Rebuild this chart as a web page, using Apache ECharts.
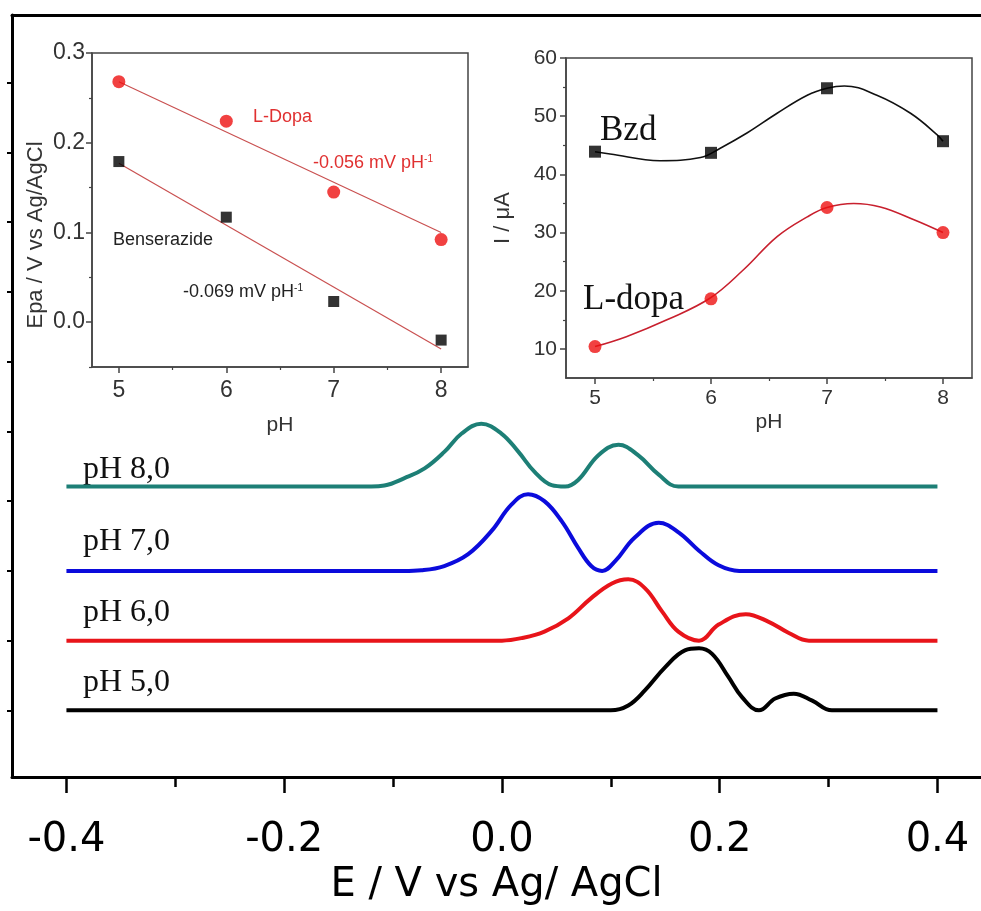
<!DOCTYPE html>
<html>
<head>
<meta charset="utf-8">
<title>DPV pH</title>
<script src="https://cdn.jsdelivr.net/npm/echarts@6.0.0/dist/echarts.min.js"></script>
<style>
html, body { margin: 0; padding: 0; background: #fff; }
#chart { width: 981px; height: 911px; }
</style>
</head>
<body>
<div id="chart"></div>
<script>
// main voltammograms: E (V) and current (arb. units, 1 unit = one y tick)
var pH5E = [-0.40, 0.10, 0.116, 0.1315, 0.15, 0.168, 0.181, 0.193, 0.208, 0.2205, 0.236, 0.251, 0.268, 0.285, 0.303, 0.40];
var pH5I = [0, 0, 0.07, 0.29, 0.62, 0.86, 0.89, 0.81, 0.48, 0.19, 0, 0.17, 0.24, 0.14, 0, 0];
var pH6E = [-0.40, 0.0, 0.018, 0.039, 0.061, 0.082, 0.101, 0.116, 0.1315, 0.147, 0.162, 0.181, 0.199, 0.224, 0.245, 0.2635, 0.282, 0.40];
var pH6I = [0, 0, 0.036, 0.13, 0.32, 0.61, 0.82, 0.88, 0.75, 0.42, 0.13, 0, 0.23, 0.38, 0.27, 0.11, 0, 0];
var pH7E = [-0.40, -0.09, -0.074, -0.053, -0.031, -0.0097, 0.0087, 0.024, 0.039, 0.055, 0.070, 0.082, 0.092, 0.104, 0.122, 0.144, 0.1625, 0.181, 0.199, 0.218, 0.40];
var pH7I = [0, 0, 0.01, 0.07, 0.24, 0.57, 0.95, 1.10, 1.00, 0.71, 0.33, 0.07, 0, 0.14, 0.48, 0.69, 0.55, 0.29, 0.08, 0, 0];
var pH8E = [-0.40, -0.120, -0.108, -0.0895, -0.071, -0.0527, -0.037, -0.019, -0.0005, 0.015, 0.030, 0.0456, 0.058, 0.070, 0.0886, 0.107, 0.125, 0.144, 0.162, 0.40];
var pH8I = [0, 0, 0.014, 0.12, 0.26, 0.50, 0.76, 0.90, 0.76, 0.50, 0.21, 0.02, 0, 0.094, 0.45, 0.60, 0.45, 0.17, 0, 0];
var curveNames = ['pH 5,0', 'pH 6,0', 'pH 7,0', 'pH 8,0'];
var curveOffsets = [0, 1, 2, 3.21];
var curveColors = ['#000000', '#e8141a', '#0b0bdc', '#1d7f76'];

var mainXTicks = [-0.4, -0.2, 0, 0.2, 0.4];
var mainXMinor = [-0.3, -0.1, 0.1, 0.3];
var mainYTicks = [0, 1, 2, 3, 4, 5, 6, 7, 8, 9];

// inset 1: peak potential vs pH
var pHVals = [5, 6, 7, 8];
var ldopaEpa = [0.268, 0.224, 0.145, 0.092];
var bzdEpa = [0.179, 0.117, 0.023, -0.020];
var fitPH = [5, 8];
var ldopaFit = [0.268, 0.100];
var bzdFit = [0.177, -0.030];
var epaTicks = [0, 0.1, 0.2, 0.3];
var epaMinor = [-0.05, 0.05, 0.15, 0.25];

// inset 2: peak current vs pH
var ldopaI = [10.4, 18.6, 34.3, 30.0];
var bzdI = [43.9, 43.7, 54.8, 45.7];
var bzdCurvePH = [5.0, 5.13, 5.56, 5.91, 6.08, 6.31, 6.57, 6.83, 7.0, 7.15, 7.43, 7.72, 7.95, 8.0];
var bzdCurve = [43.9, 43.5, 42.35, 42.9, 44.5, 47.1, 50.5, 53.6, 54.8, 55.2, 53.6, 50.5, 46.8, 45.7];
var ldopaCurvePH = [5.0, 5.27, 5.62, 5.99, 6.28, 6.57, 6.83, 7.0, 7.23, 7.46, 7.75, 8.0];
var ldopaCurve = [10.4, 12.1, 15.0, 18.7, 23.6, 29.3, 32.7, 34.3, 35.0, 34.4, 32.2, 30.0];
var iTicks = [10, 20, 30, 40, 50, 60];
var iMinor = [15, 25, 35, 45, 55];
var pHTicks = [5, 6, 7, 8];
var pHMinor = [5.5, 6.5, 7.5];

function pairs(xs, ys, off) {
	return xs.map(function (x, i) { return [x, ys[i] + (off || 0)]; });
}

var chart = echarts.init(document.getElementById('chart'));

var sans = 'Liberation Sans';
var insetLabel = { color: '#333', fontFamily: sans };

function insetX(grid, ticks, minor) {
	return [{
		gridIndex: grid, type: 'value', position: 'bottom', min: 4.75, max: 8.25,
		axisLine: { onZero: false, lineStyle: { color: '#444', width: 1.5 } },
		axisTick: { customValues: ticks, length: 6, lineStyle: { color: '#444', width: 1.5 } },
		axisLabel: Object.assign({ customValues: ticks, fontSize: grid == 1 ? 23 : 21, margin: grid == 1 ? 12 : 10 }, insetLabel),
		splitLine: { show: false },
		name: 'pH', nameLocation: 'middle', nameGap: grid == 1 ? 48 : 34,
		nameTextStyle: { fontSize: 21, color: '#333', fontFamily: sans }
	}, {
		gridIndex: grid, type: 'value', position: 'bottom', min: 4.75, max: 8.25,
		axisLine: { show: false, onZero: false },
		axisTick: { customValues: minor, length: 3, lineStyle: { color: '#444', width: 1.2 } },
		axisLabel: { show: false }, splitLine: { show: false }
	}];
}

var lineSeries = [0, 1, 2, 3].map(function (k) {
	var E = [pH5E, pH6E, pH7E, pH8E][k], I = [pH5I, pH6I, pH7I, pH8I][k];
	return {
		name: curveNames[k], type: 'line', xAxisIndex: 0, yAxisIndex: 0,
		data: pairs(E, I, curveOffsets[k]), showSymbol: false, smooth: 0.4,
		lineStyle: { color: curveColors[k], width: 4 }, z: 3
	};
});

var option = {
	backgroundColor: '#fff',
	animation: false,
	grid: [
		{ left: 12, right: 0, top: 15, bottom: 131 },
		{ left: 92, top: 53, width: 376, height: 314, show: true, borderColor: '#444', borderWidth: 1.5, backgroundColor: 'rgba(0,0,0,0)' },
		{ left: 566, top: 58, width: 406, height: 320, show: true, borderColor: '#444', borderWidth: 1.5, backgroundColor: 'rgba(0,0,0,0)' }
	],
	xAxis: [{
		gridIndex: 0, type: 'value', position: 'bottom', min: -0.45, max: 0.44,
		axisLine: { onZero: false, lineStyle: { color: '#000', width: 3 } },
		axisTick: { customValues: mainXTicks, length: 16, lineStyle: { color: '#000', width: 2.5 } },
		axisLabel: { customValues: mainXTicks, formatter: function (v) { return v.toFixed(1); }, fontSize: 40, fontFamily: 'DejaVu Sans', color: '#000', margin: 44 },
		splitLine: { show: false },
		name: 'E / V vs Ag/ AgCl', nameLocation: 'middle', nameGap: 88,
		nameTextStyle: { fontSize: 40, fontFamily: 'DejaVu Sans', color: '#000' }
	}, {
		gridIndex: 0, type: 'value', position: 'bottom', min: -0.45, max: 0.44,
		axisLine: { show: false, onZero: false },
		axisTick: { customValues: mainXMinor, length: 10, lineStyle: { color: '#000', width: 2.5 } },
		axisLabel: { show: false }, splitLine: { show: false }
	}, {
		gridIndex: 0, type: 'value', position: 'top', min: -0.45, max: 0.44,
		axisLine: { onZero: false, lineStyle: { color: '#000', width: 3 } },
		axisTick: { show: false }, axisLabel: { show: false }, splitLine: { show: false }
	}].concat(insetX(1, pHTicks, pHMinor), insetX(2, pHTicks, pHMinor)),
	yAxis: [{
		gridIndex: 0, type: 'value', position: 'left', min: -0.957, max: 9.972,
		axisLine: { onZero: false, lineStyle: { color: '#000', width: 3 } },
		axisTick: { customValues: mainYTicks, length: 5, lineStyle: { color: '#000', width: 2 } },
		axisLabel: { show: false }, splitLine: { show: false }
	}, {
		gridIndex: 1, type: 'value', position: 'left', min: -0.05, max: 0.3,
		axisLine: { onZero: false, lineStyle: { color: '#444', width: 1.5 } },
		axisTick: { customValues: epaTicks, length: 6, lineStyle: { color: '#444', width: 1.5 } },
		axisLabel: Object.assign({ customValues: epaTicks, formatter: function (v) { return v.toFixed(1); }, fontSize: 23, margin: 7 }, insetLabel),
		splitLine: { show: false },
		name: 'Epa / V vs Ag/AgCl', nameLocation: 'middle', nameGap: 45,
		nameTextStyle: { fontSize: 22, color: '#333', fontFamily: sans, padding: [0, 50, 0, 0] }
	}, {
		gridIndex: 1, type: 'value', position: 'left', min: -0.05, max: 0.3,
		axisLine: { show: false, onZero: false },
		axisTick: { customValues: epaMinor, length: 3, lineStyle: { color: '#444', width: 1.2 } },
		axisLabel: { show: false }, splitLine: { show: false }
	}, {
		gridIndex: 2, type: 'value', position: 'left', min: 5, max: 60,
		axisLine: { onZero: false, lineStyle: { color: '#444', width: 1.5 } },
		axisTick: { customValues: iTicks, length: 6, lineStyle: { color: '#444', width: 1.5 } },
		axisLabel: Object.assign({ customValues: iTicks, fontSize: 21, margin: 9 }, insetLabel),
		splitLine: { show: false },
		name: 'I / μA', nameLocation: 'middle', nameGap: 52,
		nameTextStyle: { fontSize: 22, color: '#333', fontFamily: sans }
	}, {
		gridIndex: 2, type: 'value', position: 'left', min: 5, max: 60,
		axisLine: { show: false, onZero: false },
		axisTick: { customValues: iMinor, length: 3, lineStyle: { color: '#444', width: 1.2 } },
		axisLabel: { show: false }, splitLine: { show: false }
	}],
	series: lineSeries.concat([
		// inset 1
		{ type: 'line', xAxisIndex: 3, yAxisIndex: 1, data: pairs(fitPH, ldopaFit), showSymbol: false, lineStyle: { color: '#c95050', width: 1.2 } },
		{ type: 'line', xAxisIndex: 3, yAxisIndex: 1, data: pairs(fitPH, bzdFit), showSymbol: false, lineStyle: { color: '#c95050', width: 1.2 } },
		{ type: 'scatter', xAxisIndex: 3, yAxisIndex: 1, data: pairs(pHVals, ldopaEpa), symbol: 'circle', symbolSize: 13, itemStyle: { color: '#ee1111' }, z: 5 },
		{ type: 'scatter', xAxisIndex: 3, yAxisIndex: 1, data: pairs(pHVals, bzdEpa), symbol: 'rect', symbolSize: 11, itemStyle: { color: '#000' }, z: 5 },
		// inset 2
		{ type: 'line', xAxisIndex: 5, yAxisIndex: 3, data: pairs(bzdCurvePH, bzdCurve), showSymbol: false, smooth: 0.4, lineStyle: { color: '#111', width: 1.6 } },
		{ type: 'line', xAxisIndex: 5, yAxisIndex: 3, data: pairs(ldopaCurvePH, ldopaCurve), showSymbol: false, smooth: 0.4, lineStyle: { color: '#c8202e', width: 1.6 } },
		{ type: 'scatter', xAxisIndex: 5, yAxisIndex: 3, data: pairs(pHVals, bzdI), symbol: 'rect', symbolSize: 12, itemStyle: { color: '#000' }, z: 5 },
		{ type: 'scatter', xAxisIndex: 5, yAxisIndex: 3, data: pairs(pHVals, ldopaI), symbol: 'circle', symbolSize: 13, itemStyle: { color: '#ee1111' }, z: 5 }
	]),
	graphic: [
		{ type: 'text', x: 83, y: 683, style: { text: curveNames[0], font: '32px "Liberation Serif"', fill: '#111', verticalAlign: 'middle' } },
		{ type: 'text', x: 83, y: 613, style: { text: curveNames[1], font: '32px "Liberation Serif"', fill: '#111', verticalAlign: 'middle' } },
		{ type: 'text', x: 83, y: 542, style: { text: curveNames[2], font: '32px "Liberation Serif"', fill: '#111', verticalAlign: 'middle' } },
		{ type: 'text', x: 83, y: 470, style: { text: curveNames[3], font: '32px "Liberation Serif"', fill: '#111', verticalAlign: 'middle' } },
		{ type: 'text', x: 253, y: 117, style: { text: 'L-Dopa', font: '18px "Liberation Sans"', fill: '#e03030', verticalAlign: 'middle' } },
		{ type: 'text', x: 313, y: 163, style: { text: '{a|-0.056 mV pH}{s|-1}', verticalAlign: 'middle',
			rich: { a: { fontSize: 18, fontFamily: sans, fill: '#e03030' }, s: { fontSize: 10, fontFamily: sans, fill: '#e03030', verticalAlign: 'top' } } } },
		{ type: 'text', x: 113, y: 240, style: { text: 'Benserazide', font: '18px "Liberation Sans"', fill: '#222', verticalAlign: 'middle' } },
		{ type: 'text', x: 183, y: 292, style: { text: '{a|-0.069 mV pH}{s|-1}', verticalAlign: 'middle',
			rich: { a: { fontSize: 18, fontFamily: sans, fill: '#222' }, s: { fontSize: 10, fontFamily: sans, fill: '#222', verticalAlign: 'top' } } } },
		{ type: 'text', x: 600, y: 131, style: { text: 'Bzd', font: '35px "Liberation Serif"', fill: '#111', verticalAlign: 'middle' } },
		{ type: 'text', x: 583, y: 300, style: { text: 'L-dopa', font: '35px "Liberation Serif"', fill: '#111', verticalAlign: 'middle' } }
	]
};

chart.setOption(option);
</script>
</body>
</html>
